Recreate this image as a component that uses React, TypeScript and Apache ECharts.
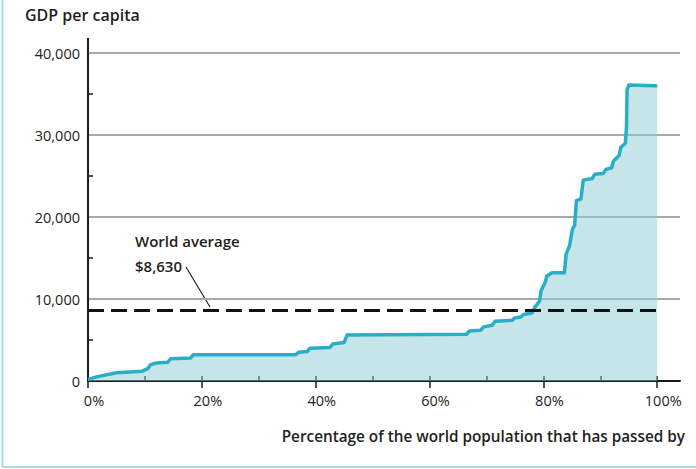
import React, { useEffect, useRef } from "react";
import * as echarts from "echarts";

// Cumulative population share (%) and GDP per capita (US$)
const popShare = [0, 1.5, 5, 9.5, 10.5, 11, 12, 14, 14.5, 18, 18.5, 36.5, 37, 38.5, 39, 42.5, 43, 45, 45.5, 66.5, 67, 69, 69.5, 71, 71.5, 74.5, 75, 76, 76.5, 78, 78.5, 79.3, 79.6, 80.3, 80.6, 81.5, 83.7, 84, 84.6, 85.1, 85.5, 85.8, 86.6, 87.0, 88.6, 89, 90.5, 91, 92, 92.3, 93.3, 93.6, 94.4, 94.6, 94.7, 95.0, 99.5, 100];
const gdpPerCapita = [200, 500, 1000, 1200, 1500, 2000, 2200, 2300, 2700, 2800, 3200, 3200, 3500, 3600, 4000, 4100, 4500, 4700, 5600, 5700, 6100, 6200, 6600, 6800, 7300, 7400, 7700, 7800, 8100, 8300, 9000, 9700, 11000, 12000, 12800, 13200, 13200, 15500, 16500, 18500, 19000, 22000, 22200, 24500, 24700, 25200, 25300, 25800, 26000, 26800, 27500, 28500, 29000, 31000, 35500, 36100, 36000, 36000];
const worldAverage = 8630;
const xTickLabels = [0, 20, 40, 60, 80, 100];
const xMinorTicks = [0, 10, 20, 30, 40, 50, 60, 70, 80, 90, 100];
const yTicks = [0, 10000, 20000, 30000, 40000];

const FONT = "'Open Sans', 'Noto Sans', sans-serif";
const TEXT = "#231f20";

export default function App() {
  const ref = useRef<HTMLDivElement>(null);
  useEffect(() => {
    const chart = echarts.init(ref.current!, null, { renderer: "svg" });
    const data = popShare.map((x, i) => [x, gdpPerCapita[i]]);
    chart.setOption({
      animation: false,
      textStyle: { fontFamily: FONT },
      grid: { left: 88, right: 16, top: 53, bottom: 88, outerBoundsMode: "none" },
      xAxis: [
        {
          type: "value",
          min: 0,
          max: 104,
          axisLine: { show: true, onZero: false, lineStyle: { color: "#1a1a1a", width: 2 } },
          axisTick: { show: true, inside: false, length: 7, customValues: xTickLabels, lineStyle: { color: "#1a1a1a", width: 1.5 } },
          axisLabel: {
            customValues: xTickLabels,
            formatter: (v: number) => `${v}%`,
            color: TEXT,
            fontSize: 14.5,
            fontFamily: FONT,
            margin: 12,
            padding: [0, 0, 0, 12],
          },
          splitLine: { show: false },
        },
        {
          type: "value",
          position: "bottom",
          min: 0,
          max: 104,
          axisLine: { show: false },
          axisTick: { show: true, inside: true, length: 5, customValues: xMinorTicks, lineStyle: { color: "#1a1a1a", width: 1.5 } },
          axisLabel: { show: false },
          splitLine: { show: false },
        },
      ],
      yAxis: {
        type: "value",
        min: 0,
        max: 40000,
        interval: 10000,
        axisLine: { show: true, lineStyle: { color: "#1a1a1a", width: 2 } },
        axisTick: { show: false, inside: true },
        minorTick: { show: true, splitNumber: 2, length: 5, lineStyle: { color: "#1a1a1a", width: 1.5 } },
        axisLabel: {
          color: TEXT,
          fontSize: 14.5,
          fontFamily: FONT,
          margin: 8,
          formatter: (v: number) => (yTicks.includes(v) ? v.toLocaleString("en-US") : ""),
        },
        splitLine: { show: true, lineStyle: { color: "#a9a9a9", width: 2 } },
      },
      series: [
        {
          type: "line",
          data,
          showSymbol: false,
          symbol: "none",
          lineStyle: { color: "#2aaec6", width: 3.5, join: "round" },
          areaStyle: { color: "#8ecbd1", opacity: 0.5 },
          markLine: {
            silent: true,
            symbol: "none",
            label: { show: false },
            lineStyle: { color: "#111", width: 3, type: [16, 7] },
            data: [[{ coord: [0, worldAverage] }, { coord: [100, worldAverage] }]],
          },
        },
      ],
      graphic: [
        { type: "line", shape: { x1: 2.5, y1: 0, x2: 2.5, y2: 467 }, style: { stroke: "#a5dbe2", lineWidth: 2 } },
        { type: "line", shape: { x1: 2.5, y1: 467, x2: 696, y2: 467 }, style: { stroke: "#a5dbe2", lineWidth: 2 } },
        { type: "line", shape: { x1: 88, y1: 38, x2: 88, y2: 54 }, style: { stroke: "#1a1a1a", lineWidth: 2 } },
        {
          type: "text",
          left: 25,
          top: 7,
          style: { text: "GDP per capita", fontSize: 16, fontWeight: 600, fontFamily: FONT, fill: TEXT },
        },
        {
          type: "text",
          x: 135,
          y: 241,
          style: { text: "World average", fontSize: 15, fontWeight: 600, fontFamily: FONT, fill: TEXT, verticalAlign: "middle" },
        },
        {
          type: "text",
          x: 135,
          y: 266,
          style: { text: "$8,630", fontSize: 15, fontWeight: 600, fontFamily: FONT, fill: TEXT, verticalAlign: "middle" },
        },
        { type: "line", shape: { x1: 186, y1: 267, x2: 210, y2: 307 }, style: { stroke: "#222", lineWidth: 1.2 } },
        {
          type: "text",
          x: 685,
          y: 436,
          style: {
            text: "Percentage of the world population that has passed by",
            fontSize: 15.3,
            fontWeight: 600,
            fontFamily: FONT,
            fill: TEXT,
            align: "right",
            verticalAlign: "middle",
          },
        },
      ],
    });
    return () => chart.dispose();
  }, []);
  return <div ref={ref} style={{ position: "fixed", left: 0, top: 0, width: 696, height: 469, background: "#fff" }} />;
}
